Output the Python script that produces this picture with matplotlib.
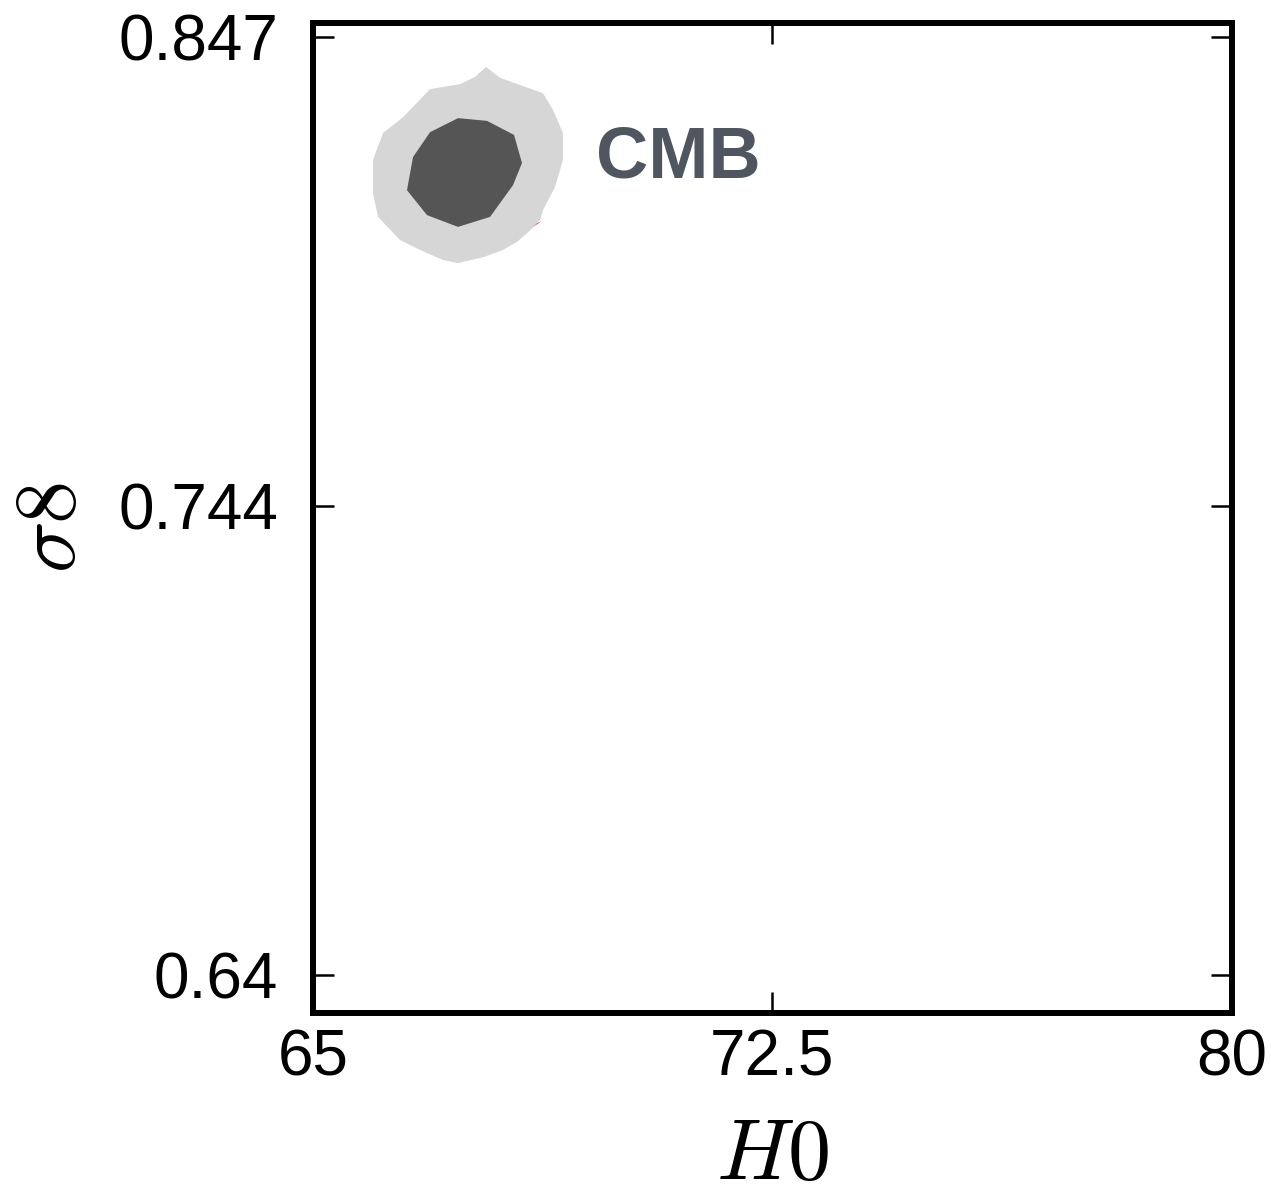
import matplotlib
matplotlib.use("Agg")
import matplotlib.pyplot as plt
from matplotlib.patches import Polygon

plt.rcParams['font.family'] = ['Liberation Sans', 'DejaVu Sans']
plt.rcParams['mathtext.fontset'] = 'cm'

# CMB 95% (outer) contour vertices: H0, sigma8
cmb_outer_h0 = [67.825, 68.054, 68.756, 68.920, 69.083, 69.083, 68.952, 68.756, 68.707, 68.495,
                68.332, 68.103, 67.776, 67.368, 67.123, 66.748, 66.421, 66.062, 65.980, 65.980,
                66.143, 66.470, 66.911, 67.401, 67.646]
cmb_outer_s8 = [0.8404, 0.8380, 0.8346, 0.8309, 0.8258, 0.8199, 0.8139, 0.8088, 0.8066, 0.8037,
                0.8018, 0.8000, 0.7984, 0.7971, 0.7978, 0.8000, 0.8022, 0.8073, 0.8126, 0.8199,
                0.8258, 0.8293, 0.8355, 0.8366, 0.8382]
# CMB 68% (inner) contour vertices
cmb_inner_h0 = [67.368, 67.842, 68.283, 68.413, 68.266, 67.891, 67.368, 66.862, 66.535, 66.633, 66.911]
cmb_inner_s8 = [0.8291, 0.8285, 0.8254, 0.8192, 0.8143, 0.8073, 0.8051, 0.8077, 0.8132, 0.8205, 0.8260]
# visible sliver of the red contour
red_h0 = [68.300, 68.511, 68.740, 68.593, 68.413]
red_s8 = [0.8030, 0.8051, 0.8064, 0.8051, 0.8033]

xticks = [65, 72.5, 80]
xticklabels = ['65', '72.5', '80']
yticks = [0.64, 0.7435, 0.847]
yticklabels = ['0.64', '0.744', '0.847']

fig = plt.figure(figsize=(12.71, 11.89), dpi=100)
ax = fig.add_axes([313/1271, 1 - 1013/1189, (1231.5-313)/1271, (1013-23)/1189])

ax.add_patch(Polygon(list(zip(red_h0, red_s8)), closed=True, facecolor='#c4505a', edgecolor='none', zorder=1))
ax.add_patch(Polygon(list(zip(cmb_outer_h0, cmb_outer_s8)), closed=True, facecolor='#d6d6d6', edgecolor='none', zorder=2))
ax.add_patch(Polygon(list(zip(cmb_inner_h0, cmb_inner_s8)), closed=True, facecolor='#555555', edgecolor='none', zorder=3))

ax.text(69.62, 0.8159, 'CMB', fontsize=52, fontweight='bold', color='#4f5660', ha='left', va='baseline')

ax.set_xlim(65, 80)
ax.set_ylim(0.6316, 0.8501)
ax.set_xticks(xticks)
ax.set_xticklabels(xticklabels)
ax.set_yticks(yticks)
ax.set_yticklabels(yticklabels)

for s in ax.spines.values():
    s.set_linewidth(4.3)
ax.tick_params(direction='in', length=15, width=1.8, top=True, right=True, labelsize=46)
ax.tick_params(axis='x', pad=11)
ax.tick_params(axis='y', pad=25)

ax.set_xlabel(r'$H0$', fontsize=62)
ax.set_ylabel(r'$\sigma8$', fontsize=62)
ax.xaxis.label.set_verticalalignment('baseline')
ax.xaxis.set_label_coords(0.5, -0.168)
ax.yaxis.set_label_coords(-0.240, 0.49)

fig.savefig('out.png', dpi=100)
